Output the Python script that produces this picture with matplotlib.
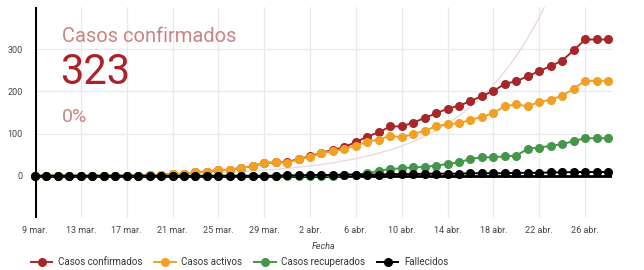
import numpy as np
import pandas as pd
import matplotlib
matplotlib.use('Agg')
import matplotlib.pyplot as plt

plt.rcParams['font.family'] = ['Roboto', 'DejaVu Sans']

# Daily series, 9 mar. -> 28 abr.
fechas = pd.date_range('2020-03-09', '2020-04-28', freq='D')
confirmados = [0, 0, 0, 0, 0, 0, 0, 0, 0, 0, 1, 3, 4, 5, 8, 10, 14, 14, 19, 23,
               30, 32, 32, 40, 46, 55, 61, 68, 80, 93, 103, 117, 117, 126, 137, 148, 159, 166, 177, 189,
               201, 218, 224, 236, 248, 260, 273, 297, 323, 323, 323]
activos = [0, 0, 0, 0, 0, 0, 0, 0, 0, 0, 1, 3, 4, 5, 8, 10, 14, 14, 19, 23,
           30, 32, 31, 39, 44, 54, 58, 64, 71, 81, 86, 95, 91, 99, 107, 117, 123, 124, 133, 139,
           149, 165, 169, 165, 175, 180, 190, 206, 225, 225, 225]
recuperados = [0, 0, 0, 0, 0, 0, 0, 0, 0, 0, 0, 0, 0, 0, 0, 0, 0, 0, 0, 0,
               0, 0, 0, 0, 0, 0, 0, 1, 3, 6, 12, 16, 18, 20, 21, 24, 28, 32, 40, 44,
               44, 46, 48, 64, 67, 71, 75, 82, 89, 89, 89]
fallecidos = [0, 0, 0, 0, 0, 0, 0, 0, 0, 0, 0, 0, 0, 0, 0, 0, 0, 0, 0, 0,
              0, 0, 1, 1, 2, 2, 2, 3, 3, 3, 3, 4, 4, 4, 5, 5, 5, 5, 6, 6,
              6, 6, 7, 7, 7, 8, 8, 9, 9, 9, 9]

# exponential trendline: value at day 29.2 and daily growth
trend_base = 48
trend_day = 29.2
trend_rate = 0.139

tick_labels = ['9 mar.', '13 mar.', '17 mar.', '21 mar.', '25 mar.', '29 mar.', '2 abr.',
               '6 abr.', '10 abr.', '14 abr.', '18 abr.', '22 abr.', '26 abr.']
yticks = [0, 100, 200, 300]

series = [('Casos confirmados', confirmados, '#a8262a'),
          ('Casos activos', activos, '#f2a024'),
          ('Casos recuperados', recuperados, '#43964a'),
          ('Fallecidos', fallecidos, '#000000')]

dias = np.arange(len(fechas))

fig = plt.figure(figsize=(6.44, 2.70), dpi=100)
ax = fig.add_axes([35 / 644, 1 - 218 / 270, 577 / 644, 211 / 270])

ax.set_xlim(0, 50.35)
ax.set_ylim(-100, 400)

# gridlines
ax.set_xticks(np.arange(0, len(fechas), 4))
ax.set_xticklabels(tick_labels)
ax.set_yticks(yticks)
ax.grid(True, color='#e9e9e9', linewidth=0.9)
ax.set_axisbelow(True)
for s in ax.spines.values():
    s.set_visible(False)
ax.axvline(0, color='black', linewidth=2.2, zorder=2)
ax.axhline(0, color='black', linewidth=2.0, zorder=2)
ax.tick_params(length=0, labelsize=6.5, colors='#444444', pad=6)
ax.tick_params(axis='y', pad=9)

# trendline
tx = np.linspace(0, 50, 300)
ax.plot(tx, trend_base * np.exp(trend_rate * (tx - trend_day)), color='#eed9d9',
        linewidth=1.0, zorder=3)

handles = []
for nombre, valores, color in series:
    h, = ax.plot(dias, valores, color=color, linewidth=1.4, marker='o', markersize=5.5,
                 label=nombre, zorder=4, clip_on=False)
    handles.append(h)

ax.set_xlabel('Fecha', fontsize=6.5, style='italic', color='#444444', labelpad=5)

leg = fig.legend(handles=handles, loc='center left', bbox_to_anchor=(31 / 644, 1 - 262 / 270),
                 ncol=4, frameon=False, fontsize=7, handlelength=2.2,
                 columnspacing=1.2, handletextpad=0.6, borderaxespad=0, borderpad=0)
for t in leg.get_texts():
    t.set_color('#333333')

# headline overlay
ax.text(62 / 644, 1 - 42 / 270, 'Casos confirmados', transform=fig.transFigure,
        fontsize=14.5, color='#c98585', va='baseline')
ax.text(60 / 644, 1 - 84 / 270, '323', transform=fig.transFigure,
        fontsize=30, color='#ab2228', va='baseline')
ax.text(62 / 644, 1 - 122 / 270, '0%', transform=fig.transFigure,
        fontsize=14, color='#c98585', va='baseline')

fig.savefig('out.png', dpi=100)
